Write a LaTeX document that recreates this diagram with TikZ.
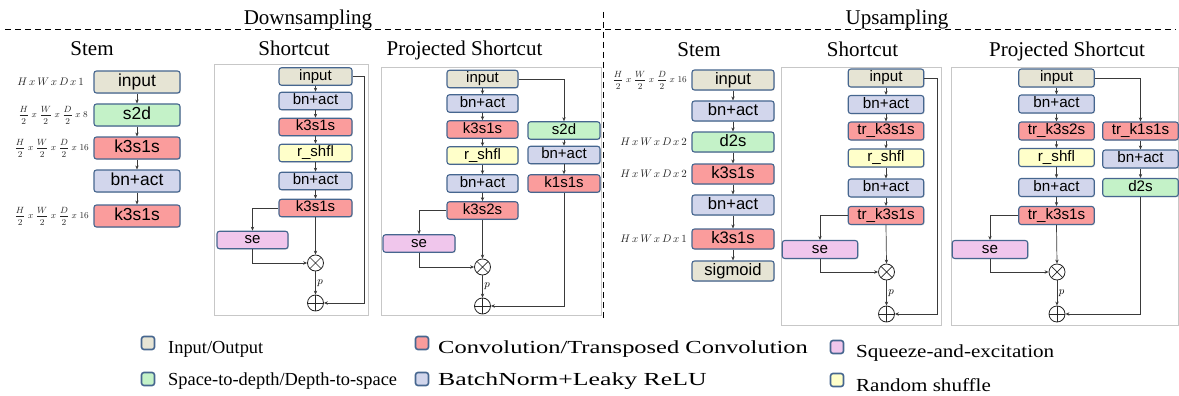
\documentclass[tikz,border=0pt]{standalone}
\usepackage{fontspec}
\usepackage{amsmath}
\setmainfont{Liberation Serif}
\newfontfamily\boxfont{Liberation Sans}
\usetikzlibrary{arrows.meta,shadows,calc}
\definecolor{cio}{HTML}{E6E4D4}
\definecolor{cgr}{HTML}{C4F2C8}
\definecolor{ccv}{HTML}{FA9C9C}
\definecolor{cbn}{HTML}{D2D6EC}
\definecolor{csh}{HTML}{FFFFCA}
\definecolor{cse}{HTML}{F0C6EC}
\definecolor{bordc}{HTML}{46668F}
\definecolor{cline}{HTML}{3A3A3A}
\newcommand\fsz[1]{\fontsize{#1}{#1}\selectfont}
\tikzset{
 blk/.style={draw=bordc, line width=1.1pt, rounded corners=2.5pt, inner sep=0pt, text=black},
 shad/.style={drop shadow={opacity=0.22,shadow xshift=0.9pt,shadow yshift=-0.9pt}},
 io/.style={blk, fill=cio}, gr/.style={blk, fill=cgr}, cv/.style={blk, fill=ccv},
 bn/.style={blk, fill=cbn}, sh/.style={blk, fill=csh}, se/.style={blk, fill=cse},
 sA/.style={shad, minimum width=86pt, minimum height=22pt, font=\boxfont\fsz{17.4}, text height=12.5pt, text depth=3.5pt},
 sB/.style={shad, minimum width=82pt, minimum height=20pt, font=\boxfont\fsz{16.6}, text height=11.9pt, text depth=3.3pt},
 sC/.style={shad, minimum width=73pt, minimum height=17.5pt, font=\boxfont\fsz{15}, text height=10.8pt, text depth=3pt},
 sD/.style={shad, minimum width=75.5pt, minimum height=18pt, font=\boxfont\fsz{15.2}, text height=10.9pt, text depth=3pt},
 con/.style={draw=cline, line width=0.7pt, -{Stealth[length=4pt,width=3.4pt]}},
 opn/.style={circle, draw=black!85, line width=0.8pt, minimum size=16pt, inner sep=0pt},
 otim/.style={opn, path picture={\draw[line width=0.7pt] (path picture bounding box.center) +(45:8pt) -- +(225:8pt) (path picture bounding box.center) +(135:8pt) -- +(-45:8pt);}},
 oplu/.style={opn, path picture={\draw[line width=0.7pt] (path picture bounding box.center) +(0:8pt) -- +(180:8pt) (path picture bounding box.center) +(90:8pt) -- +(-90:8pt);}},
 plab/.style={right, inner sep=1.5pt, font=\fsz{10.5}},
 frm/.style={draw=black!22, line width=0.7pt},
 ttl/.style={anchor=base, inner sep=0pt, font=\fsz{21}},
 lab/.style={anchor=east, inner sep=0pt, font=\fsz{10.5}, text=black!85},
 flab/.style={anchor=east, inner sep=0pt, font=\fsz{9}, text=black!85},
 lsq/.style={draw=bordc, line width=1.6pt, rounded corners=2.5pt, minimum size=13pt, inner sep=0pt},
 ltx/.style={anchor=base west, inner sep=0pt, font=\fsz{18.4}},
 dsh/.style={line width=1pt, dash pattern=on 6pt off 4pt},
}
\newcommand\fr[1]{\dfrac{#1}{2}}
\newcommand\gp{\hspace{2.6pt}}
\newcommand\frrow[1]{$\fr{H}\gp x\gp\fr{W}\gp x\gp\fr{D}\gp x\gp #1$}
\newcommand\hrow[1]{$H\,x\,W\,x\,D\,x\,#1$}
\begin{document}
\begin{tikzpicture}[x=1pt,y=-1pt]
\useasboundingbox (0,0) rectangle (1179,396);
% dashed separators
\coordinate (hl) at (5,30); \coordinate (hr) at (1176,30);
\coordinate (vt) at (603,12); \coordinate (vb) at (603,318);
\draw[dsh] (hl) -- (hr);
\draw[dsh] (vt) -- (vb);
% headings
\node[ttl] (tdown) at (308,25) {Downsampling};
\node[ttl] (tup) at (897,25) {Upsampling};
\node[ttl] (t1) at (92,56) {Stem};
\node[ttl] (t2) at (294,56) {Shortcut};
\node[ttl] (t3) at (464.5,56) {Projected Shortcut};
\node[ttl] (t4) at (699,57) {Stem};
\node[ttl] (t5) at (862.5,57) {Shortcut};
\node[ttl] (t6) at (1067,57) {Projected Shortcut};
% frames
\node[frm, anchor=north west, minimum width=154pt, minimum height=251pt, inner sep=0pt] (f2) at (214,64) {};
\node[frm, anchor=north west, minimum width=220pt, minimum height=248pt, inner sep=0pt] (f3) at (381,67) {};
\node[frm, anchor=north west, minimum width=160pt, minimum height=258pt, inner sep=0pt] (f5) at (781,67) {};
\node[frm, anchor=north west, minimum width=227pt, minimum height=258pt, inner sep=0pt] (f6) at (951,67) {};
% ---------- Down stem
\node[io,sA] (a1) at (137,82) {input};
\node[gr,sA] (a2) at (137,115) {s2d};
\node[cv,sA] (a3) at (137,148) {k3s1s};
\node[bn,sA] (a4) at (137,181) {bn+act};
\node[cv,sA] (a5) at (137,216) {k3s1s};
\foreach \i/\j in {a1/a2,a2/a3,a3/a4,a4/a5} \draw[con] (\i) -- (\j);
\node[lab] (la1) at (84,82) {\hrow{1}};
\node[flab] (la2) at (88,115) {\frrow{8}};
\node[flab] (la3) at (89,148) {\frrow{16}};
\node[flab] (la5) at (89,216) {\frrow{16}};
% ---------- Down shortcut
\node[io,sC] (b1) at (315.5,76.5) {input};
\node[bn,sC] (b2) at (315.5,101) {bn+act};
\node[cv,sC] (b3) at (315.5,127) {k3s1s};
\node[sh,sC] (b4) at (315.5,153) {r\_shfl};
\node[bn,sC] (b5) at (315.5,181) {bn+act};
\node[cv,sC] (b6) at (315.5,208) {k3s1s};
\node[se,sC, minimum width=71pt] (bse) at (252.5,240) {se};
\node[otim] (bx) at (315.5,263) {};
\node[oplu] (bp) at (315.5,303) {};
\foreach \i/\j in {b1/b2,b2/b3,b3/b4,b4/b5,b5/b6} \draw[con] (\i) -- (\j);
\draw[con] (b6.west) -| (bse.north);
\draw[con] (bse.south) |- (bx.west);
\draw[con] (b6.south) -- (bx.north);
\draw[con] (bx.south) -- node[plab] {$p$} (bp.north);
\draw[con] (b1.east) -- ++(12,0) |- (bp.east);
% ---------- Down projected shortcut
\node[io,sC,minimum width=71pt] (c1) at (482.5,79) {input};
\node[bn,sC,minimum width=71pt] (c2) at (482.5,103.5) {bn+act};
\node[cv,sC,minimum width=71pt] (c3) at (482.5,129.5) {k3s1s};
\node[sh,sC,minimum width=71pt] (c4) at (482.5,155.5) {r\_shfl};
\node[bn,sC,minimum width=71pt] (c5) at (482.5,183.5) {bn+act};
\node[cv,sC,minimum width=71pt] (c6) at (482.5,210.5) {k3s2s};
\node[se,sC,minimum width=72pt] (cse) at (419,243.5) {se};
\node[otim] (cx) at (482.5,267) {};
\node[oplu] (cp) at (482.5,306) {};
\node[gr,sC,minimum width=72pt] (c7) at (564,130.5) {s2d};
\node[bn,sC,minimum width=72pt] (c8) at (564,155) {bn+act};
\node[cv,sC,minimum width=72pt] (c9) at (564,183.5) {k1s1s};
\foreach \i/\j in {c1/c2,c2/c3,c3/c4,c4/c5,c5/c6,c7/c8,c8/c9} \draw[con] (\i) -- (\j);
\draw[con] (c1.east) -| (c7.north);
\draw[con] (c6.west) -| (cse.north);
\draw[con] (cse.south) |- (cx.west);
\draw[con] (c6.south) -- (cx.north);
\draw[con] (cx.south) -- node[plab] {$p$} (cp.north);
\draw[con] (c9.south) |- (cp.east);
% ---------- Up stem
\node[io,sB] (d1) at (733,80) {input};
\node[bn,sB] (d2) at (733,111) {bn+act};
\node[gr,sB] (d3) at (733,142) {d2s};
\node[cv,sB] (d4) at (733,174) {k3s1s};
\node[bn,sB] (d5) at (733,205) {bn+act};
\node[cv,sB] (d6) at (733,239) {k3s1s};
\node[io,sB] (d7) at (733,271) {sigmoid};
\foreach \i/\j in {d1/d2,d2/d3,d3/d4,d4/d5,d5/d6,d6/d7} \draw[con] (\i) -- (\j);
\node[flab] (ld1) at (687,80) {\frrow{16}};
\node[lab] (ld3) at (687,142) {\hrow{2}};
\node[lab] (ld4) at (687,174) {\hrow{2}};
\node[lab] (ld6) at (687,239) {\hrow{1}};
% ---------- Up shortcut
\node[io,sD] (e1) at (886,78) {input};
\node[bn,sD] (e2) at (886,104.5) {bn+act};
\node[cv,sD] (e3) at (886,131) {tr\_k3s1s};
\node[sh,sD] (e4) at (886,158) {r\_shfl};
\node[bn,sD] (e5) at (886,188) {bn+act};
\node[cv,sD] (e6) at (886,215.5) {tr\_k3s1s};
\node[se,sD] (ese) at (820,249.5) {se};
\node[otim] (ex) at (886.5,272) {};
\node[oplu] (ep) at (886.5,314) {};
\foreach \i/\j in {e1/e2,e2/e3,e3/e4,e4/e5,e5/e6} \draw[con] (\i) -- (\j);
\draw[con] (e6.west) -| (ese.north);
\draw[con] (ese.south) |- (ex.west);
\draw[con] (e6.south) -- (ex.north);
\draw[con] (ex.south) -- node[plab] {$p$} (ep.north);
\draw[con] (e1.east) -- ++(13,0) |- (ep.east);
% ---------- Up projected shortcut
\node[io,sD] (g1) at (1056.5,78) {input};
\node[bn,sD] (g2) at (1056.5,104) {bn+act};
\node[cv,sD] (g3) at (1056.5,131) {tr\_k3s2s};
\node[sh,sD] (g4) at (1056.5,157.5) {r\_shfl};
\node[bn,sD] (g5) at (1056.5,187.5) {bn+act};
\node[cv,sD] (g6) at (1056.5,215.5) {tr\_k3s1s};
\node[se,sD] (gse) at (990,249.5) {se};
\node[otim] (gx) at (1057,272) {};
\node[oplu] (gp) at (1057,314) {};
\node[cv,sD] (g7) at (1140.5,131) {tr\_k1s1s};
\node[bn,sD] (g8) at (1140.5,159) {bn+act};
\node[gr,sD] (g9) at (1140.5,187.5) {d2s};
\foreach \i/\j in {g1/g2,g2/g3,g3/g4,g4/g5,g5/g6,g7/g8,g8/g9} \draw[con] (\i) -- (\j);
\draw[con] (g1.east) -| (g7.north);
\draw[con] (g6.west) -| (gse.north);
\draw[con] (gse.south) |- (gx.west);
\draw[con] (g6.south) -- (gx.north);
\draw[con] (gx.south) -- node[plab] {$p$} (gp.north);
\draw[con] (g9.south) |- (gp.east);
% ---------- Legend
\node[lsq, fill=cio] (q1) at (148,343) {};
\node[ltx] (l1) at (168,353) {Input/Output};
\node[lsq, fill=cgr] (q2) at (148,379) {};
\node[ltx] (l2) at (168,385) {Space-to-depth/Depth-to-space};
\node[lsq, fill=ccv] (q3) at (422,343) {};
\node[ltx] (l3) at (438,353) {\scalebox{1.33}[1]{Convolution/Transposed Convolution}};
\node[lsq, fill=cbn] (q4) at (422,379) {};
\node[ltx] (l4) at (438,385) {\scalebox{1.4}[1]{BatchNorm+Leaky ReLU}};
\node[lsq, fill=cse] (q5) at (837,347) {};
\node[ltx] (l5) at (856,357) {\scalebox{1.147}[1]{Squeeze-and-excitation}};
\node[lsq, fill=csh] (q6) at (837,380) {};
\node[ltx] (l6) at (856,391) {\scalebox{1.144}[1]{Random shuffle}};
\end{tikzpicture}
\end{document}
